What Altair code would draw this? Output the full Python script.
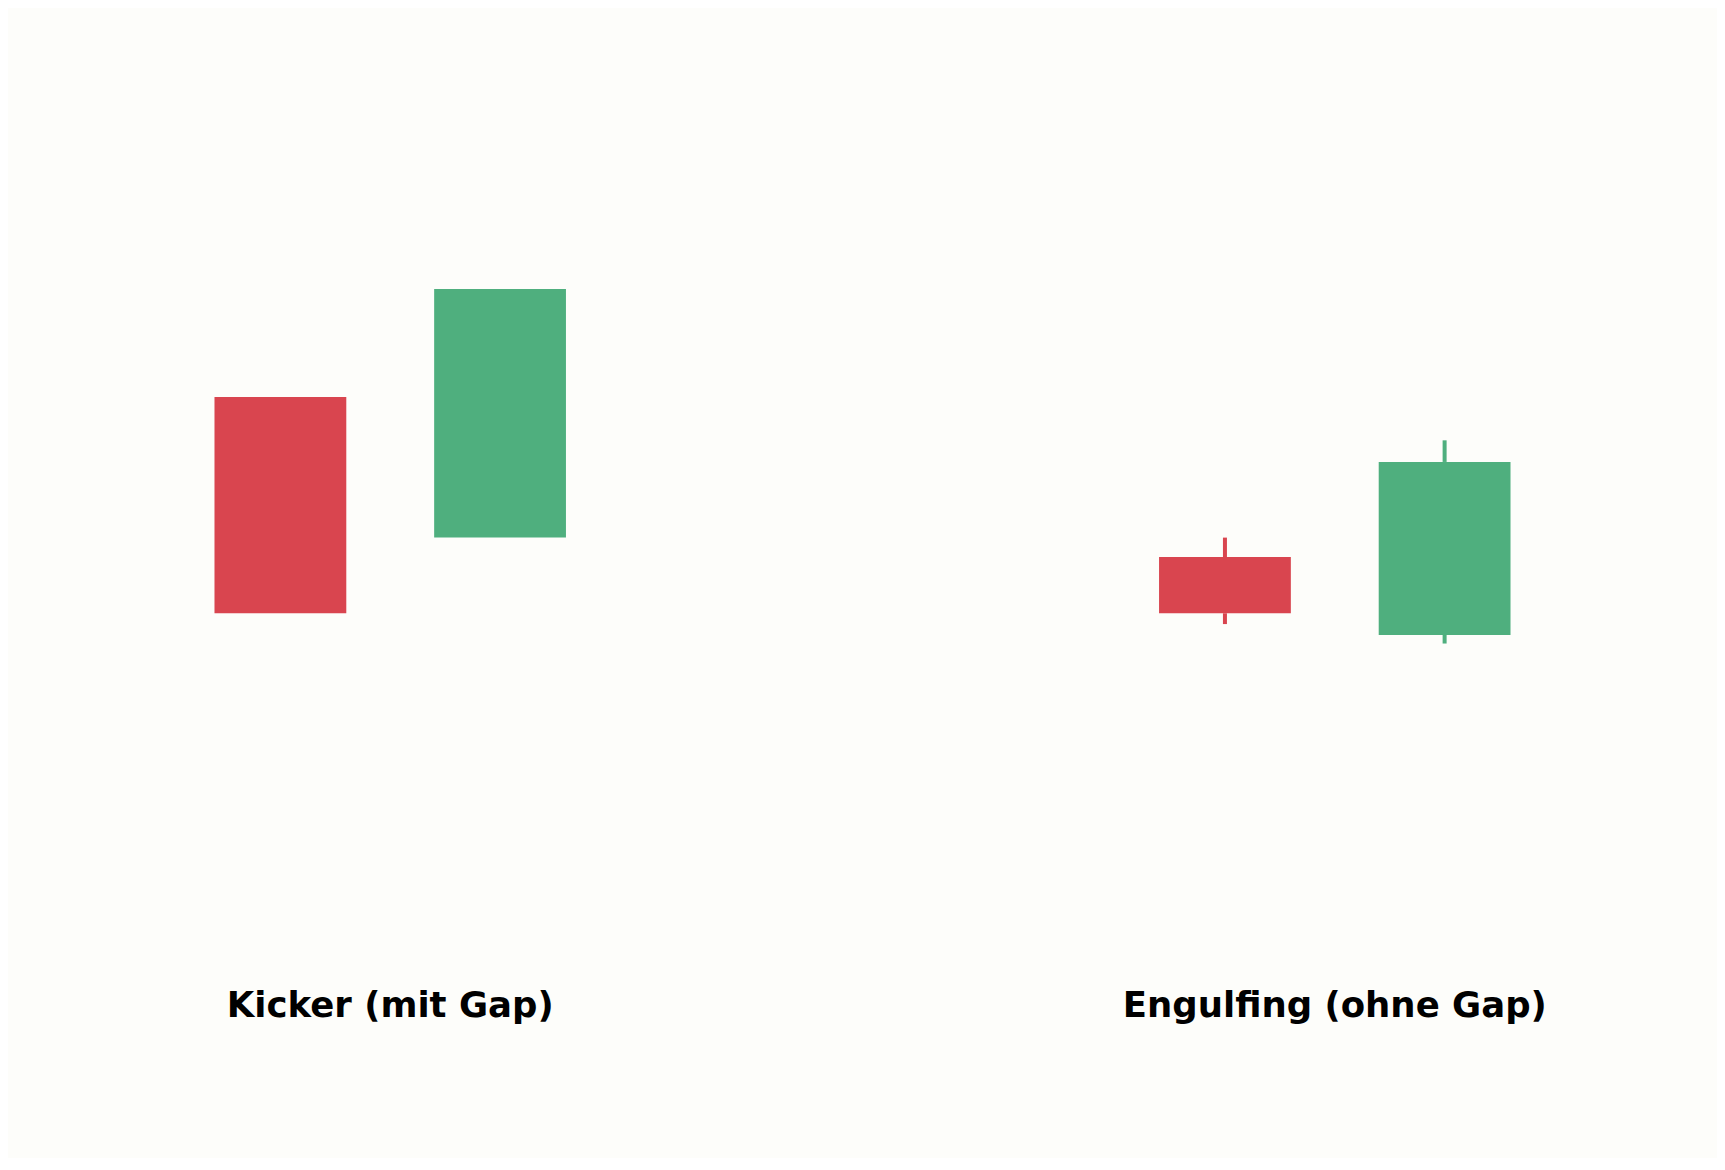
import altair as alt
import pandas as pd

# candle data (x position in slots, prices in arbitrary units)
xpos = [0.0, 1.0, 4.3, 5.3]
opens = [110.0, 103.5, 102.6, 99.0]
closes = [100.0, 115.0, 100.0, 107.0]
highs = [110.0, 115.0, 103.5, 108.0]
lows = [100.0, 103.5, 99.5, 98.6]
direction = ["down", "up", "down", "up"]

label_x = [0.5, 4.8]
label_y = [81.3, 81.3]
label_text = ["Kicker (mit Gap)", "Engulfing (ohne Gap)"]

candles = pd.DataFrame({
    "x": xpos, "open": opens, "close": closes,
    "high": highs, "low": lows, "dir": direction,
})
labels = pd.DataFrame({"x": label_x, "y": label_y, "text": label_text})

xs = alt.Scale(domain=[-1.24, 6.54], nice=False, zero=False)
ys = alt.Scale(domain=[74.8, 128.0], nice=False, zero=False)
col = alt.Color("dir:N", scale=alt.Scale(domain=["down", "up"], range=["#d9454f", "#4faf7e"]), legend=None)

base = alt.Chart(candles).transform_calculate(
    top="max(datum.open, datum.close)",
    bot="min(datum.open, datum.close)",
    x0="datum.x - 0.3",
    x1="datum.x + 0.3",
)

upper = base.transform_filter("datum.high > datum.top").mark_rule(strokeWidth=4).encode(
    x=alt.X("x:Q", scale=xs, axis=None),
    y=alt.Y("top:Q", scale=ys, axis=None),
    y2="high:Q",
    color=col,
)

lower = base.transform_filter("datum.low < datum.bot").mark_rule(strokeWidth=4).encode(
    x=alt.X("x:Q", scale=xs, axis=None),
    y=alt.Y("low:Q", scale=ys, axis=None),
    y2="bot:Q",
    color=col,
)

bodies = base.mark_rect().encode(
    x=alt.X("x0:Q", scale=xs, axis=None),
    x2="x1:Q",
    y=alt.Y("open:Q", scale=ys, axis=None),
    y2="close:Q",
    color=col,
)

texts = alt.Chart(labels).mark_text(
    font="DejaVu Sans", fontWeight="bold", fontSize=35.5, color="#000000",
    align="center", baseline="alphabetic",
).encode(
    x=alt.X("x:Q", scale=xs, axis=None),
    y=alt.Y("y:Q", scale=ys, axis=None),
    text="text:N",
)

chart = alt.layer(upper, lower, bodies, texts).properties(
    width=1709, height=1150, padding=0, background="#fdfdfa",
    autosize=alt.AutoSizeParams(type="none"),
).configure_view(stroke=None)

chart.save("out.html", embed_options={"renderer": "svg", "actions": False})
